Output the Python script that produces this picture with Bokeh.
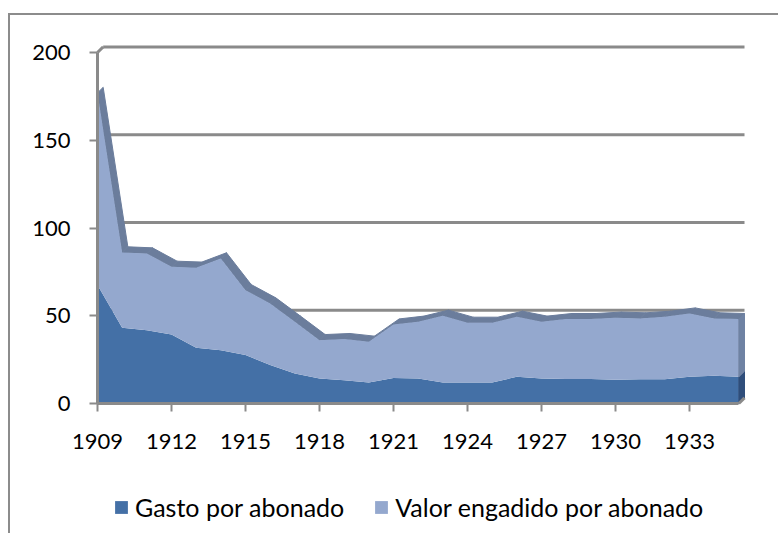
from bokeh.plotting import figure
from bokeh.models import FixedTicker, Legend, LegendItem, Range1d, ColumnDataSource
from bokeh.embed import file_html
from bokeh.resources import INLINE

# ---- data ----
years = list(range(1909, 1936))
gasto = [67.5, 43.2, 41.8, 39.3, 31.8, 30.4, 27.6, 21.9, 17.1, 14.3,
         13.3, 12.0, 14.6, 14.3, 12.0, 12.0, 12.0, 15.2, 14.3, 14.0,
         14.0, 13.5, 13.8, 13.8, 15.2, 15.8, 15.2]
valor = [109.5, 42.9, 43.7, 38.6, 45.6, 52.3, 37.0, 35.1, 29.5, 21.8,
         23.4, 23.2, 30.4, 32.3, 38.0, 34.0, 34.0, 34.2, 32.3, 34.1,
         34.1, 35.4, 34.7, 35.6, 36.1, 32.7, 32.9]
series_names = ["Gasto por abonado", "Valor engadido por abonado"]
y_ticks = [0, 50, 100, 150, 200]
x_ticks = [1909, 1912, 1915, 1918, 1921, 1924, 1927, 1930, 1933]
x_tick_labels = ["1909", "1912", "1915", "1918", "1921", "1924", "1927", "1930", "1933"]

# ---- style ----
FONT = "Lato"
DARK = "#4470a6"
LIGHT = "#94a8ce"
BAND = "#6b7d9c"
DARK_SIDE = "#2f4e7b"
LIGHT_SIDE = "#6f82a3"
GRID = "#8a8a8a"
DX = 0.23   # 3-D depth offset (years)
DY = 3.2    # 3-D depth offset (value units)

n = len(years)
first, last = years[0], years[-1]
total = [g + v for g, v in zip(gasto, valor)]

p = figure(width=770, height=520, output_backend="svg", toolbar_location=None,
           x_range=Range1d(1905.96, last + 1), y_range=Range1d(-72.36, 208),
           min_border_left=12, min_border_right=17, min_border_top=23, min_border_bottom=5)
p.styles = {"border-left": "2px solid #8c8c8c", "border-top": "2px solid #8c8c8c",
            "margin-top": "13px", "margin-left": "8px"}
p.outline_line_color = None
p.xgrid.visible = False
p.ygrid.visible = False
p.background_fill_color = "white"
p.border_fill_color = "white"

# back-wall gridlines and side-wall stubs
for v in y_ticks[1:]:
    p.segment(x0=first + DX, y0=v + DY, x1=last + DX, y1=v + DY, line_color=GRID, line_width=3)
    p.segment(x0=first, y0=v, x1=first + DX, y1=v + DY, line_color=GRID, line_width=3)

# top surface (3-D band) of the stacked area
band_xs = [[years[i], years[i + 1], years[i + 1] + DX, years[i] + DX] for i in range(n - 1)]
band_ys = [[total[i], total[i + 1], total[i + 1] + DY, total[i] + DY] for i in range(n - 1)]
p.patches(band_xs, band_ys, fill_color=BAND, line_color=BAND, line_width=1)

# front faces
src = ColumnDataSource(dict(x=years, g=gasto, v=valor))
rs = p.varea_stack(stackers=["g", "v"], x="x", source=src, color=[DARK, LIGHT])

# right-end side faces
p.patch([last, last, last + DX, last + DX], [0, gasto[-1], gasto[-1] + DY, DY],
        fill_color=DARK_SIDE, line_color=DARK_SIDE)
p.patch([last, last, last + DX, last + DX], [gasto[-1], total[-1], total[-1] + DY, gasto[-1] + DY],
        fill_color=LIGHT_SIDE, line_color=LIGHT_SIDE)
p.segment(x0=last, y0=0, x1=last + DX, y1=DY, line_color=GRID, line_width=3)

# axes (placed at the data origin)
ya = p.yaxis[0]
ya.ticker = FixedTicker(ticks=y_ticks)
ya.bounds = (y_ticks[0], y_ticks[-1])
ya.fixed_location = first
xa = p.xaxis[0]
xa.ticker = FixedTicker(ticks=x_ticks)
xa.major_label_overrides = {t: l for t, l in zip(x_ticks, x_tick_labels)}
xa.bounds = (first, last)
xa.fixed_location = 0
for ax in (xa, ya):
    ax.axis_line_color = GRID
    ax.axis_line_width = 3
    ax.major_tick_line_color = GRID
    ax.major_tick_line_width = 2
    ax.major_tick_out = 8
    ax.major_tick_in = 0
    ax.minor_tick_line_color = None
    ax.major_label_text_font = FONT
    ax.major_label_text_font_size = "22px"
    ax.major_label_text_color = "black"
xa.major_label_standoff = 22
ya.major_label_standoff = 19

legend = Legend(items=[LegendItem(label=series_names[0], renderers=[rs[0]]),
                       LegendItem(label=series_names[1], renderers=[rs[1]])],
                location=(91, 8), orientation="horizontal",
                glyph_width=16, glyph_height=16, label_standoff=6, spacing=29,
                padding=0, margin=0, border_line_color=None, background_fill_alpha=0,
                label_text_font=FONT, label_text_font_size="25px", label_text_color="black")
p.add_layout(legend, "center")

open("out.html", "w").write(file_html(p, INLINE))
